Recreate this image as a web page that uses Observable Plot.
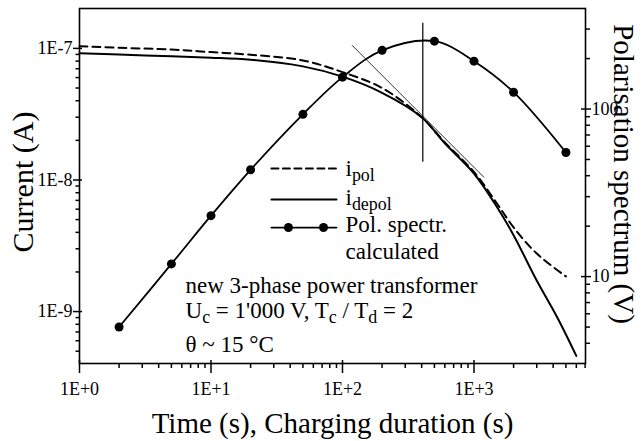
<!DOCTYPE html>
<html><head><meta charset="utf-8">
<script src="https://cdn.jsdelivr.net/npm/d3@7"></script>
<script src="https://cdn.jsdelivr.net/npm/@observablehq/plot@0.6"></script>
<style>
body{margin:0;background:#fff;}
#chart{position:relative;width:641px;height:441px;}
#chart svg{position:absolute;left:0;top:0;}
</style></head><body><div id="chart"></div>
<script>
// ---- data ----
const tPol   = [1, 2, 5, 10, 20, 50, 100, 200, 400, 600, 1000, 1500, 2000, 3000, 5000];
const iPol   = [1.04e-7, 1.01e-7, 9.8e-8, 9.37e-8, 8.95e-8, 8.1e-8, 6.6e-8, 5.0e-8, 3.0e-8, 1.93e-8, 1.15e-8, 6.6e-9, 4.36e-9, 2.76e-9, 1.85e-9];
const tDepol = [1, 2, 5, 10, 20, 50, 100, 200, 400, 600, 1000, 1500, 2000, 3000, 4300, 6000];
const iDepol = [9.2e-8, 9.0e-8, 8.7e-8, 8.5e-8, 8.2e-8, 7.3e-8, 6.1e-8, 4.6e-8, 3.0e-8, 1.9e-8, 1.12e-8, 6.2e-9, 3.8e-9, 1.72e-9, 9.0e-10, 4.6e-10];
const tSpec  = [2, 5, 10, 20, 50, 100, 200, 500, 1000, 2000, 5000];
const vSpec  = [5.0, 11.9, 23.1, 43.4, 93, 155, 224, 254, 193, 126, 55];
const tMark  = [408];            // vertical marker at the spectrum peak
const iMark  = [1.556e-7, 1.366e-8];
const tTan   = [118.5, 1188];    // tangent line
const iTan   = [1.054e-7, 1.05e-8];

const xMajor = [1, 10, 100, 1000];
const xLabels = ["1E+0", "1E+1", "1E+2", "1E+3"];
const xMinor = [2,3,4,5,6,7,8,9,20,30,40,50,60,70,80,90,200,300,400,500,600,700,800,900,2000,3000,4000,5000,6000,7000];
const yMajor = [1e-9, 1e-8, 1e-7];
const yLabels = ["1E-9", "1E-8", "1E-7"];
const yMinor = [5e-10,6e-10,7e-10,8e-10,9e-10,2e-9,3e-9,4e-9,5e-9,6e-9,7e-9,8e-9,9e-9,2e-8,3e-8,4e-8,5e-8,6e-8,7e-8,8e-8,9e-8];
const vMajor = [10, 100];
const vLabels = ["10", "100"];
const vMinor = [4,5,6,7,8,9,20,30,40,50,60,70,80,90,200,300];

const legendLabels = ["i_{pol}", "i_{depol}", "Pol. spectr.", "calculated"];
const noteLines = ["new 3-phase power transformer", "U_{c} = 1'000 V, T_{c} / T_{d} = 2", "θ ~ 15 °C"];

// ---- layout ----
const W = 641, H = 441;
const M = {marginLeft: 79, marginRight: 56, marginTop: 8, marginBottom: 78};
const xDomain = [1, 7046], yDomain = [4.03e-10, 2.01e-7], vDomain = [3.03, 398];
const serif = "Liberation Serif";

const pol = tPol.map((t, k) => ({t, v: iPol[k]}));
const depol = tDepol.map((t, k) => ({t, v: iDepol[k]}));
const spec = tSpec.map((t, k) => ({t, v: vSpec[k]}));
const tan = tTan.map((t, k) => ({t, v: iTan[k]}));

// legend / annotation anchors (in data units of the current axis)
const legX0 = 28.8, legX1 = 90, legTextX = 105.4;
const legLineY = [1.224e-8, 7.11e-9, 4.35e-9];
const legTextY = [1.063e-8, 6.51e-9, 3.99e-9, 2.53e-9];
const noteX = 6.4, noteY = [1.395e-9, 9.0e-10, 4.96e-10];

const frameH = H - M.marginTop - M.marginBottom;
const frameW = W - M.marginLeft - M.marginRight;

const p1 = Plot.plot({
  width: W, height: H, ...M,
  x: {type: "log", domain: xDomain},
  y: {type: "log", domain: yDomain},
  marks: [
    Plot.axisX({ticks: xMajor, tickSize: 10, tickPadding: 9, strokeWidth: 1.5, fontSize: 18, fontFamily: serif,
      tickFormat: d => xLabels[xMajor.indexOf(d)], label: null}),
    Plot.axisX({ticks: xMinor, tickSize: 5, strokeWidth: 1.5, tickFormat: () => "", label: null}),
    Plot.tickX(xMajor, {x: d => d, insetTop: frameH - 3, strokeWidth: 1.5}),
    Plot.axisY({ticks: yMajor, tickSize: 6, tickPadding: 1, strokeWidth: 1.5, fontSize: 18, fontFamily: serif,
      tickFormat: d => yLabels[yMajor.indexOf(d)], label: null}),
    Plot.axisY({ticks: yMinor, tickSize: 3.5, strokeWidth: 1.5, tickFormat: () => "", label: null}),
    Plot.tickY(yMajor, {y: d => d, insetRight: frameW - 3, strokeWidth: 1.5}),
    Plot.frame({stroke: "#000", strokeWidth: 1.6}),
    Plot.line(depol, {x: "t", y: "v", curve: "catmull-rom", stroke: "#000", strokeWidth: 2}),
    Plot.line(pol, {x: "t", y: "v", curve: "catmull-rom", stroke: "#000", strokeWidth: 2, strokeDasharray: "8,5"}),
    Plot.ruleX(tMark, {x: d => d, y1: iMark[0], y2: iMark[1], stroke: "#000", strokeWidth: 1.2}),
    Plot.line(tan, {x: "t", y: "v", stroke: "#000", strokeWidth: 0.8}),
    // legend
    Plot.line([{t: legX0, v: legLineY[0]}, {t: legX1, v: legLineY[0]}], {x: "t", y: "v", stroke: "#000", strokeWidth: 2, strokeDasharray: "7,4.5"}),
    Plot.line([{t: legX0, v: legLineY[1]}, {t: legX1, v: legLineY[1]}], {x: "t", y: "v", stroke: "#000", strokeWidth: 2}),
    Plot.line([{t: legX0, v: legLineY[2]}, {t: legX1, v: legLineY[2]}], {x: "t", y: "v", stroke: "#000", strokeWidth: 1.8}),
    Plot.dot([38.8, 71.7], {x: d => d, y: legLineY[2], r: 4.5, fill: "#000", stroke: "none"}),
    Plot.text(legendLabels, {x: legTextX, y: (d, k) => legTextY[k], text: d => d, textAnchor: "start", lineAnchor: "bottom", fontSize: 23, fontFamily: serif}),
    Plot.text(noteLines, {x: noteX, y: (d, k) => noteY[k], text: d => d, textAnchor: "start", lineAnchor: "bottom", fontSize: 23, fontFamily: serif}),
    // axis titles
    Plot.text(["Current (A)"], {frameAnchor: "left", text: d => d, rotate: -90, dx: -56, dy: -4, fontSize: 30, textAnchor: "middle", lineAnchor: "middle", fontFamily: serif}),
    Plot.text(["Time (s), Charging duration (s)"], {frameAnchor: "bottom", text: d => d, dy: 69, fontSize: 29, textAnchor: "middle", lineAnchor: "bottom", fontFamily: serif})
  ]
});

const p2 = Plot.plot({
  width: W, height: H, ...M,
  x: {type: "log", domain: xDomain, axis: null},
  y: {type: "log", domain: vDomain},
  marks: [
    Plot.axisY({anchor: "right", ticks: vMajor, tickSize: 5, tickPadding: 1, strokeWidth: 1.5, fontSize: 18, fontFamily: serif,
      tickFormat: d => vLabels[vMajor.indexOf(d)], label: null}),
    Plot.axisY({anchor: "right", ticks: vMinor, tickSize: 4, strokeWidth: 1.5, tickFormat: () => "", label: null}),
    Plot.tickY(vMajor, {y: d => d, insetLeft: frameW - 4, strokeWidth: 1.5}),
    Plot.line(spec, {x: "t", y: "v", curve: "catmull-rom", stroke: "#000", strokeWidth: 1.8}),
    Plot.dot(spec, {x: "t", y: "v", r: 4.5, fill: "#000", stroke: "none"}),
    Plot.text(["Polarisation spectrum (V)"], {frameAnchor: "right", text: d => d, rotate: 90, dx: 38, dy: -12, fontSize: 29, textAnchor: "middle", lineAnchor: "middle", fontFamily: serif})
  ]
});

function subscripts(svg) {
  d3.select(svg).selectAll("text").each(function() {
    const s = this.textContent;
    if (!s.includes("_{")) return;
    const el = d3.select(this);
    this.textContent = "";
    let shifted = false;
    s.split(/(_\{[^}]*\})/).forEach(p => {
      if (!p) return;
      if (p.startsWith("_{")) {
        el.append("tspan").attr("font-size", "0.78em").attr("dy", shifted ? 0 : 5).text(p.slice(2, -1));
        shifted = true;
      } else {
        el.append("tspan").attr("dy", shifted ? -5 : 0).text(p);
        shifted = false;
      }
    });
  });
}
subscripts(p1);

for (const svg of [p1, p2]) {
  d3.select(svg).attr("font-family", serif).style("background", "transparent").style("overflow", "visible").style("color", "#000");
  d3.select(svg).selectAll("text, tspan").attr("font-family", serif).style("font-family", serif);
}

const chart = document.getElementById("chart");
chart.appendChild(p1);
chart.appendChild(p2);
</script></body></html>
